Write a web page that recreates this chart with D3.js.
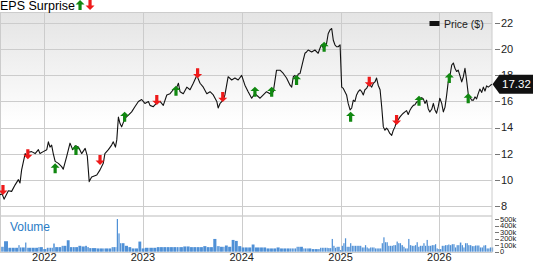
<!DOCTYPE html>
<html>
<head>
<meta charset="utf-8">
<script src="https://cdn.jsdelivr.net/npm/d3@7"></script>
<style>
    body { margin: 0; background: #fff; }
    text { font-family: "Liberation Sans", Arial, sans-serif; }
</style>
</head>
<body>
<svg id="chart"></svg>
<script>
const WIDTH = 533;
const HEIGHT = 262;

// Weekly-ish closes
const dates = [
    '2021-07-21','2021-07-29','2021-08-05','2021-08-21','2021-09-02','2021-09-15','2021-09-27','2021-10-03','2021-10-09','2021-10-22',
    '2021-10-28','2021-11-02','2021-11-15','2021-11-28','2021-12-10','2021-12-16','2021-12-28',
    '2022-01-10','2022-01-16','2022-01-22','2022-01-28','2022-02-03','2022-02-10','2022-02-22','2022-03-06','2022-03-12','2022-03-25',
    '2022-04-06','2022-04-16','2022-04-25','2022-05-07','2022-05-19','2022-06-01','2022-06-09','2022-06-16','2022-06-25','2022-07-14',
    '2022-07-26','2022-08-07','2022-08-13','2022-08-26','2022-09-07','2022-09-13','2022-09-21','2022-09-26','2022-10-02','2022-10-08',
    '2022-10-14','2022-10-26','2022-11-08','2022-11-20','2022-12-02','2022-12-15','2022-12-27',
    '2023-01-08','2023-01-21','2023-01-27','2023-02-08','2023-02-21','2023-03-05','2023-03-17','2023-03-30','2023-04-11','2023-04-23',
    '2023-05-06','2023-05-12','2023-05-18','2023-05-30','2023-06-12','2023-06-24','2023-07-06','2023-07-19','2023-07-31','2023-08-12',
    '2023-08-25','2023-09-06','2023-09-18','2023-10-01','2023-10-06','2023-10-13','2023-10-25','2023-10-31','2023-11-12','2023-11-25',
    '2023-12-07','2023-12-19',
    '2024-01-01','2024-01-13','2024-01-25','2024-02-07','2024-02-19','2024-03-09','2024-03-21','2024-04-02','2024-04-15','2024-04-27',
    '2024-05-09','2024-05-22','2024-06-03','2024-06-15','2024-06-28','2024-07-04','2024-07-10','2024-07-16','2024-07-22','2024-07-28',
    '2024-08-04','2024-08-16','2024-08-22','2024-08-28','2024-09-03','2024-09-16','2024-09-28','2024-10-10','2024-10-17','2024-10-23',
    '2024-10-29','2024-11-04','2024-11-10','2024-11-16','2024-11-23','2024-11-29','2024-12-05','2024-12-11','2024-12-17','2024-12-23',
    '2024-12-30',
    '2025-01-05','2025-01-11','2025-01-17','2025-01-23','2025-01-29','2025-02-05','2025-02-11','2025-02-17','2025-02-23','2025-03-01',
    '2025-03-07','2025-03-14','2025-03-20','2025-03-26','2025-04-01','2025-04-07','2025-04-13','2025-04-20','2025-04-26','2025-05-02',
    '2025-05-08','2025-05-14','2025-05-20','2025-05-27','2025-06-02','2025-06-08','2025-06-14','2025-06-20','2025-06-26','2025-07-02',
    '2025-07-09','2025-07-15','2025-07-21','2025-07-27','2025-08-02','2025-08-08','2025-08-14','2025-08-21','2025-08-27','2025-09-02',
    '2025-09-08','2025-09-14','2025-09-21','2025-09-27','2025-10-03','2025-10-09','2025-10-15','2025-10-21','2025-10-28','2025-11-03',
    '2025-11-09','2025-11-15','2025-11-21','2025-11-27','2025-12-04','2025-12-10','2025-12-16','2025-12-22','2025-12-28',
    '2026-01-03','2026-01-10','2026-01-16','2026-01-22','2026-01-28','2026-02-03','2026-02-09','2026-02-16','2026-02-22','2026-02-28',
    '2026-03-06','2026-03-12','2026-03-18','2026-03-25','2026-03-31','2026-04-06','2026-04-12','2026-04-18','2026-04-24','2026-05-01',
    '2026-05-07','2026-05-13','2026-05-19','2026-05-25','2026-05-31','2026-06-07','2026-06-13','2026-06-19','2026-06-25','2026-07-01',
    '2026-07-07','2026-07-14'
];

const closes = [
    8.85, 8.9, 8.5, 9.15, 9.1, 9.6, 10.0, 9.75, 10.75, 12.0,
    11.8, 12.1, 12.15, 12.0, 12.3, 12.0, 12.15,
    12.3, 12.9, 12.5, 12.65, 12.0, 11.4, 11.25, 11.0, 10.8, 11.8,
    12.8, 12.3, 12.6, 12.5, 12.0, 12.4, 11.8, 9.85, 10.2, 10.35,
    10.75, 11.25, 12.0, 12.3, 12.65, 12.9, 12.5, 13.05, 14.8, 14.3,
    14.05, 14.7, 14.95, 15.2, 15.6, 16.0, 16.15,
    15.85, 16.0, 15.7, 15.6, 15.9, 16.0, 15.7, 16.5, 16.6, 16.9,
    17.1, 17.4, 16.75, 16.6, 17.1, 16.9, 17.4, 18.0, 17.4, 17.1,
    16.6, 16.75, 16.5, 16.0, 15.5, 15.85, 16.1, 16.5, 17.9, 17.65,
    17.8, 17.65,
    18.0, 17.25, 16.75, 16.25, 16.6, 16.25, 16.5, 16.75, 16.6, 16.75,
    18.4, 18.4, 18.15, 17.8, 17.25, 17.1, 17.9, 18.0, 17.7, 18.1,
    18.15, 19.2, 19.7, 19.8, 19.95, 19.8, 19.95, 19.7, 20.1, 20.35,
    20.1, 20.2, 20.45, 21.2, 21.5, 21.6, 20.7, 20.35, 20.2, 20.2,
    20.35,
    17.1, 17.0, 16.75, 16.5, 15.85, 15.35, 15.5, 16.1, 16.0, 16.5,
    16.75, 16.9, 16.75, 16.5, 16.9, 17.0, 17.25, 17.25, 17.1, 17.4,
    17.5, 17.8, 17.25, 16.9, 15.6, 14.05, 13.8, 13.95, 13.8, 13.55,
    13.4, 13.8, 14.05, 14.45, 14.6, 14.8, 14.95, 15.1, 15.2, 15.3,
    15.0, 15.3, 15.55, 15.7, 15.75, 15.95, 16.0, 16.15, 16.3, 16.2,
    15.85, 16.1, 15.45, 15.2, 15.4, 15.85, 15.35, 15.1, 15.6,
    16.25, 15.85, 15.2, 15.55, 16.45, 17.5, 17.9, 18.8, 18.95, 18.55,
    18.3, 18.4, 18.0, 17.5, 17.9, 18.55, 17.65, 16.6, 16.35, 16.1,
    16.1, 16.35, 16.2, 16.6, 16.95, 16.7, 17.1, 16.8, 17.2, 17.1,
    17.2, 17.32
];

// Volume in thousands, same dates
const volumes = [
    75, 75, 160, 60, 60, 60, 100, 65, 65, 140,
    60, 60, 60, 60, 70, 70, 40,
    60, 60, 60, 60, 125, 70, 70, 90, 90, 175,
    70, 70, 70, 90, 80, 90, 70, 55, 55, 50,
    50, 50, 50, 50, 70, 70, 70, 500, 280, 130,
    130, 90, 70, 50, 50, 155, 50,
    60, 60, 60, 60, 70, 70, 70, 70, 70, 70,
    70, 70, 70, 80, 80, 70, 70, 70, 70, 85,
    70, 70, 195, 85, 85, 75, 75, 95, 75, 180,
    165, 85,
    65, 65, 65, 110, 65, 65, 65, 50, 50, 50,
    65, 50, 50, 50, 50, 50, 50, 50, 75, 75,
    75, 50, 50, 50, 50, 40, 40, 40, 60, 60,
    60, 60, 60, 55, 55, 195, 90, 60, 75, 75,
    25,
    90, 130, 205, 75, 75, 130, 90, 90, 90, 90,
    90, 90, 65, 65, 100, 65, 50, 65, 65, 65,
    50, 50, 50, 50, 130, 220, 145, 145, 90, 90,
    90, 100, 100, 155, 130, 130, 100, 75, 50, 50,
    195, 100, 90, 90, 100, 145, 75, 90, 90, 130,
    90, 180, 90, 90, 100, 100, 115, 50, 40,
    40, 90, 90, 100, 100, 110, 100, 115, 115, 65,
    100, 100, 140, 100, 65, 130, 130, 100, 100, 85,
    85, 95, 95, 95, 65, 65, 95, 100, 50, 50,
    65, 65
];

// EPS surprise markers: date, price level of the marker, beat (up) or miss (down)
const epsDates = [
    '2021-08-01','2021-11-01','2022-02-10','2022-04-28','2022-07-26','2022-10-25','2023-02-21','2023-05-03','2023-07-22','2023-10-23',
    '2024-02-19','2024-04-21','2024-07-22','2024-11-01','2025-02-07','2025-04-17','2025-07-27','2025-10-18','2026-02-07','2026-04-18'
];
const epsLevels = [
    9.21, 11.95, 10.87, 12.28, 11.51, 14.83, 16.11, 16.83, 18.16, 16.34,
    16.75, 16.75, 17.65, 20.2, 14.83, 17.52, 14.58, 16.06, 17.8, 16.24
];
const epsBeat = [
    false, false, true, true, false, true, false, true, false, false,
    true, true, true, true, true, false, false, true, true, true
];

const priceTicks = [8, 10, 12, 14, 16, 18, 20, 22];
const volumeTicks = [0, 100, 200, 300, 400, 500];
const volumeLabels = ['0', '100k', '200k', '300k', '400k', '500k'];
const yearTicks = ['2022', '2023', '2024', '2025', '2026'];
const lastPrice = 17.32;

const GREEN = '#118811';
const RED = '#ee1a1a';

function arrowPath(up) {
    if (up) {
        return 'M0,-5L4.5,-0.6L1.6,-0.6L1.6,5L-1.6,5L-1.6,-0.6L-4.5,-0.6Z';
    }
    return 'M0,5L4.5,0.6L1.6,0.6L1.6,-5L-1.6,-5L-1.6,0.6L-4.5,0.6Z';
}

function makeChart() {
    const parse = d3.timeParse('%Y-%m-%d');
    const data = dates.map((d, i) => ({ date: parse(d), close: closes[i], volume: volumes[i] }));

    const plotLeft = 0, plotRight = 492;
    const plotTop = 12, priceBottom = 215, volTop = 217, plotBottom = 252;

    const x = d3.scaleTime()
        .domain([parse('2021-07-21'), parse('2026-07-15')])
        .range([plotLeft, plotRight]);
    const y = d3.scaleLinear()
        .domain([8, 22])
        .range([205.7, 23.3]);
    const yVol = d3.scaleLinear()
        .domain([0, 500])
        .range([251.7, 219]);

    const svg = d3.select('#chart')
        .attr('width', WIDTH)
        .attr('height', HEIGHT);

    const defs = svg.append('defs');
    const grad = defs.append('linearGradient')
        .attr('id', 'bg')
        .attr('x1', 0).attr('y1', 0).attr('x2', 0).attr('y2', 1);
    grad.append('stop').attr('offset', '0%').attr('stop-color', '#e4e4e4');
    grad.append('stop').attr('offset', '55%').attr('stop-color', '#ffffff');
    grad.append('stop').attr('offset', '100%').attr('stop-color', '#ffffff');

    defs.append('clipPath').attr('id', 'clip-price')
        .append('rect')
        .attr('x', plotLeft).attr('y', plotTop)
        .attr('width', plotRight - plotLeft).attr('height', priceBottom - plotTop);

    // backgrounds
    svg.append('rect')
        .attr('x', plotLeft).attr('y', plotTop)
        .attr('width', plotRight - plotLeft).attr('height', priceBottom - plotTop)
        .attr('fill', 'url(#bg)');
    svg.append('rect')
        .attr('x', plotLeft).attr('y', priceBottom)
        .attr('width', plotRight - plotLeft).attr('height', volTop - priceBottom)
        .attr('fill', '#dddddd');

    // horizontal grid + price axis
    const priceAxis = svg.append('g').attr('class', 'price-axis');
    priceAxis.selectAll('.hgrid')
        .data(priceTicks)
        .enter().append('line')
        .attr('class', 'hgrid')
        .attr('x1', plotLeft).attr('x2', plotRight)
        .attr('y1', d => Math.round(y(d)) + 0.5).attr('y2', d => Math.round(y(d)) + 0.5)
        .attr('stroke', '#cccccc');
    priceAxis.selectAll('.ptick')
        .data(priceTicks)
        .enter().append('line')
        .attr('class', 'ptick')
        .attr('x1', plotRight + 3).attr('x2', plotRight + 8)
        .attr('y1', d => Math.round(y(d)) + 0.5).attr('y2', d => Math.round(y(d)) + 0.5)
        .attr('stroke', '#777');
    priceAxis.selectAll('.plabel')
        .data(priceTicks)
        .enter().append('text')
        .attr('class', 'plabel')
        .attr('x', plotRight + 9)
        .attr('y', d => y(d))
        .attr('dy', '0.36em')
        .attr('font-size', 11)
        .attr('fill', '#222')
        .text(d => d);

    // vertical year grid
    const years = yearTicks.map(t => parse(t + '-01-01'));
    svg.selectAll('.vgrid')
        .data(years)
        .enter().append('line')
        .attr('class', 'vgrid')
        .attr('x1', d => Math.round(x(d)) + 0.5).attr('x2', d => Math.round(x(d)) + 0.5)
        .attr('y1', plotTop).attr('y2', plotBottom)
        .attr('stroke', '#cccccc');
    svg.selectAll('.year-label')
        .data(years)
        .enter().append('text')
        .attr('class', 'year-label')
        .attr('x', d => x(d))
        .attr('y', 261)
        .attr('text-anchor', 'middle')
        .attr('font-size', 11)
        .attr('fill', '#222')
        .text(d => d3.timeFormat('%Y')(d));

    // volume bars
    svg.selectAll('.vol')
        .data(data)
        .enter().append('rect')
        .attr('class', 'vol')
        .attr('x', d => x(d.date))
        .attr('y', d => yVol(d.volume))
        .attr('width', (d, i) => {
            let next = i < data.length - 1 ? x(data[i + 1].date) : x(d.date) + 1.8;
            return Math.max(1, next - x(d.date) - 0.4);
        })
        .attr('height', d => yVol(0) - yVol(d.volume))
        .attr('fill', '#4f90d6');

    // volume axis (labels are packed tight, as in the original)
    svg.selectAll('.vtick')
        .data(volumeTicks)
        .enter().append('line')
        .attr('class', 'vtick')
        .attr('x1', plotRight + 3).attr('x2', plotRight + 7)
        .attr('y1', d => Math.round(yVol(d)) + 0.5).attr('y2', d => Math.round(yVol(d)) + 0.5)
        .attr('stroke', '#777');
    svg.selectAll('.vlabel')
        .data(volumeTicks)
        .enter().append('text')
        .attr('class', 'vlabel')
        .attr('x', plotRight + 8)
        .attr('y', d => yVol(d))
        .attr('dy', '0.36em')
        .attr('font-size', 7.5)
        .attr('fill', '#222')
        .text((d, i) => volumeLabels[i]);

    svg.append('text')
        .attr('x', 10).attr('y', 231)
        .attr('font-size', 12)
        .attr('fill', '#2a7cc6')
        .text('Volume');

    // plot frame
    svg.append('rect')
        .attr('x', plotLeft + 0.5).attr('y', plotTop + 0.5)
        .attr('width', plotRight - plotLeft - 0.5).attr('height', plotBottom - plotTop)
        .attr('fill', 'none')
        .attr('stroke', '#cccccc');

    // price line
    const line = d3.line()
        .x(d => x(d.date))
        .y(d => y(d.close));
    svg.append('path')
        .datum(data)
        .attr('clip-path', 'url(#clip-price)')
        .attr('d', line)
        .attr('fill', 'none')
        .attr('stroke', '#111')
        .attr('stroke-width', 1.1)
        .attr('stroke-linejoin', 'round');

    // EPS arrows
    svg.selectAll('.eps')
        .data(epsDates)
        .enter().append('path')
        .attr('class', 'eps')
        .attr('d', (d, i) => arrowPath(epsBeat[i]))
        .attr('fill', (d, i) => epsBeat[i] ? GREEN : RED)
        .attr('transform', (d, i) => `translate(${x(parse(d))}, ${y(epsLevels[i])})`);

    // legend
    svg.append('rect')
        .attr('x', 429.5).attr('y', 21)
        .attr('width', 10).attr('height', 5)
        .attr('fill', '#111');
    svg.append('text')
        .attr('x', 444).attr('y', 27.5)
        .attr('font-size', 10.5)
        .attr('fill', '#222')
        .text('Price ($)');

    // last price tag
    let ly = y(lastPrice);
    svg.append('path')
        .attr('d', `M${plotRight + 0.5},${ly} L${plotRight + 7.5},${ly - 9.5} L${WIDTH},${ly - 9.5} L${WIDTH},${ly + 9.5} L${plotRight + 7.5},${ly + 9.5} Z`)
        .attr('fill', '#111');
    svg.append('text')
        .attr('x', plotRight + 10).attr('y', ly)
        .attr('dy', '0.36em')
        .attr('font-size', 11.5)
        .attr('fill', '#fff')
        .text(lastPrice.toFixed(2));

    // title
    let title = svg.append('text')
        .attr('x', 0).attr('y', 10)
        .attr('font-size', 12.5)
        .attr('fill', '#000')
        .text('EPS Surprise');
    let tw = title.node().getComputedTextLength();
    svg.append('path')
        .attr('d', arrowPath(true))
        .attr('fill', GREEN)
        .attr('transform', `translate(${tw + 5}, 5)`);
    svg.append('path')
        .attr('d', arrowPath(false))
        .attr('fill', RED)
        .attr('transform', `translate(${tw + 15}, 5)`);
}

window.onload = makeChart;
</script>
</body>
</html>
